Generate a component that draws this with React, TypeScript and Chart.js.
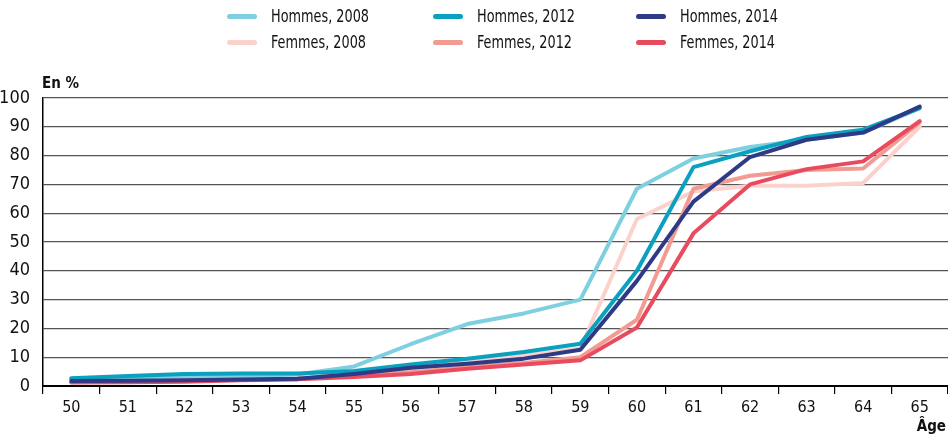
import React, { useEffect, useRef } from "react";
import { Chart, registerables } from "chart.js";

Chart.register(...registerables);

const ages = ["50", "51", "52", "53", "54", "55", "56", "57", "58", "59", "60", "61", "62", "63", "64", "65"];
const yTicks = [0, 10, 20, 30, 40, 50, 60, 70, 80, 90, 100];

const hommes2008 = [2.5, 3.0, 3.3, 3.5, 4.0, 6.8, 14.5, 21.5, 25.2, 30, 68.5, 79, 83, 85.5, 88, 96.5];
const hommes2012 = [2.7, 3.5, 4.2, 4.3, 4.3, 5.2, 7.5, 9.5, 11.8, 14.7, 40, 76, 81.5, 86.5, 89, 96.5];
const hommes2014 = [1.7, 1.8, 2.0, 2.3, 2.5, 4.2, 6.3, 7.7, 9.5, 12.6, 36.5, 64, 79.5, 85.5, 88, 97];
const femmes2008 = [1.8, 2.0, 2.2, 2.5, 2.8, 4.0, 6.0, 8.5, 10.5, 13, 58, 67.5, 69.5, 69.5, 70.5, 90];
const femmes2012 = [1.5, 1.6, 1.8, 2.2, 2.5, 3.5, 4.8, 6.5, 8, 10, 23, 68.5, 73, 75, 75.5, 91.5];
const femmes2014 = [1.2, 1.3, 1.5, 2.0, 2.3, 3.1, 4.2, 6.0, 7.5, 8.9, 20.3, 53, 70, 75.3, 78, 92];

const seriesLabels = ["Hommes, 2008", "Hommes, 2012", "Hommes, 2014", "Femmes, 2008", "Femmes, 2012", "Femmes, 2014"];
const seriesColors = ["#7ecfe0", "#0aa1bf", "#2e3a86", "#fbd2cb", "#f29b92", "#e84b5e"];
const seriesData = [hommes2008, hommes2012, hommes2014, femmes2008, femmes2012, femmes2014];
const seriesOrder = [4, 2, 0, 5, 3, 1];

const FONT = "'DejaVu Sans Condensed', 'Liberation Sans', Arial, sans-serif";

export default function App() {
  const ref = useRef<HTMLCanvasElement | null>(null);

  useEffect(() => {
    document.body.style.margin = "0";
    const canvas = ref.current;
    if (!canvas) return;
    const titles = {
      id: "axisTitles",
      afterDraw(chart: any) {
        const c = chart.ctx;
        c.save();
        c.fillStyle = "#111";
        c.font = `bold 15px ${FONT}`;
        c.textBaseline = "alphabetic";
        c.textAlign = "left";
        c.fillText("En %", 42, 88);
        c.textAlign = "right";
        c.fillText("Âge", 946, 431);
        c.restore();
      },
    };
    const chart = new Chart(canvas, {
      type: "line",
      data: {
        labels: ages,
        datasets: seriesData.map((d, i) => ({
          label: seriesLabels[i],
          data: d,
          borderColor: seriesColors[i],
          backgroundColor: seriesColors[i],
          borderWidth: 4,
          pointRadius: 0,
          tension: 0,
          order: seriesOrder[i],
          borderCapStyle: "round",
          borderJoinStyle: "round",
        })),
      },
      options: {
        animation: false,
        responsive: false,
        layout: { padding: { top: 98, right: 0, left: 0, bottom: 0 } },
        plugins: { legend: { display: false }, tooltip: { enabled: false } },
        scales: {
          x: {
            type: "category",
            offset: true,
            afterFit: (s: any) => {
              s.height = 50;
            },
            grid: {
              offset: true,
              drawOnChartArea: false,
              drawTicks: true,
              tickLength: 8,
              color: "#000",
              lineWidth: 1.2,
            },
            border: { display: true, color: "#000", width: 2 },
            ticks: {
              color: "#111",
              padding: 4,
              maxRotation: 0,
              font: { family: FONT, size: 16 },
            },
          },
          y: {
            min: 0,
            max: 100,
            afterFit: (s: any) => {
              s.width = 43;
            },
            afterBuildTicks: (s: any) => {
              s.ticks = yTicks.map((v) => ({ value: v }));
            },
            grid: {
              drawTicks: false,
              color: (ctx: any) => (ctx.tick && ctx.tick.value === 0 ? "#000" : "#555"),
              lineWidth: (ctx: any) => (ctx.tick && ctx.tick.value === 0 ? 2 : 1.3),
            },
            border: { display: true, color: "#000", width: 1.5 },
            ticks: {
              color: "#111",
              padding: 13,
              font: { family: FONT, size: 18 },
            },
          },
        },
      },
      plugins: [titles],
    } as any);
    return () => chart.destroy();
  }, []);

  const legendCols = [227, 433, 636];

  return (
    <div style={{ position: "absolute", left: 0, top: 0, width: 948, height: 436, background: "#fff" }}>
      <canvas ref={ref} width={948} height={436} style={{ position: "absolute", left: 0, top: 0 }} />
      {seriesLabels.map((lab, i) => {
        const col = i % 3;
        const row = Math.floor(i / 3);
        return (
          <div
            key={lab}
            style={{
              position: "absolute",
              left: legendCols[col],
              top: row === 0 ? 6 : 32,
              height: 20,
              display: "flex",
              alignItems: "center",
              fontFamily: FONT,
              fontSize: 17,
              color: "#111",
              whiteSpace: "nowrap",
            }}
          >
            <span
              style={{
                display: "inline-block",
                width: 30,
                height: 5,
                borderRadius: 3,
                background: seriesColors[i],
                marginRight: 14,
              }}
            />
            <span style={{ display: "inline-block", transform: "scaleX(0.84)", transformOrigin: "left center" }}>
              {lab}
            </span>
          </div>
        );
      })}
    </div>
  );
}
